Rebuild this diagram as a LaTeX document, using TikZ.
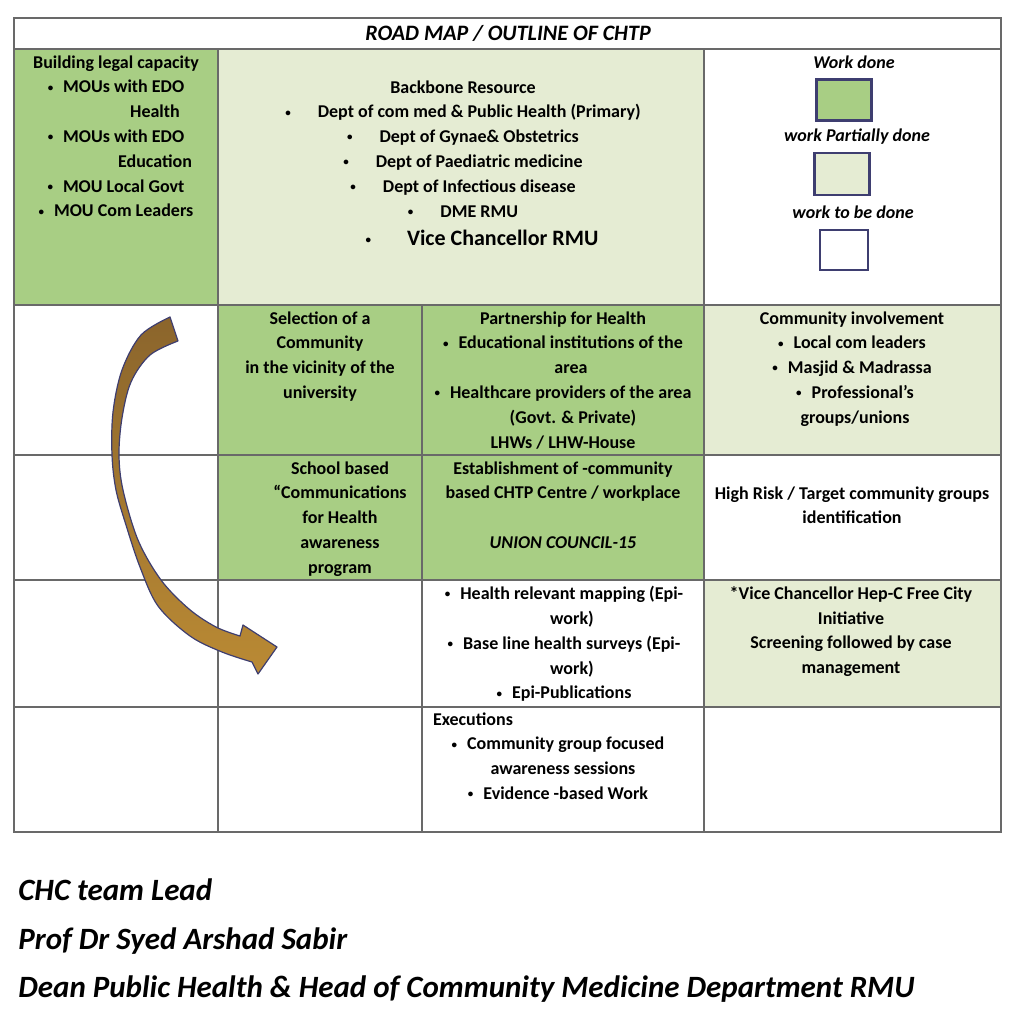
\documentclass[tikz,border=0pt]{standalone}
\usepackage{fontspec}
\setmainfont{Carlito}

\definecolor{donegreen}{RGB}{168,206,132}
\definecolor{partgreen}{RGB}{229,236,211}
\definecolor{gridgray}{RGB}{105,105,105}
\definecolor{boxblue}{RGB}{62,62,112}
\definecolor{arrowtop}{RGB}{139,101,44}
\definecolor{arrowbot}{RGB}{186,138,52}

\tikzset{
	cell text/.style={anchor=north, align=center, inner sep=0pt,
		font=\fontsize{9}{12.4}\selectfont\bfseries, execute at begin node=\strut},
	key text/.style={inner sep=0pt, font=\fontsize{9}{11}\selectfont\bfseries\itshape},
	key box/.style={draw=boxblue, line width=1.2pt, inner sep=0pt},
	sign text/.style={anchor=base west, inner sep=0pt, font=\fontsize{15.5}{17}\selectfont\bfseries\itshape},
	bend arrow/.style={top color=arrowtop, bottom color=arrowbot, draw=boxblue, line width=0.6pt, line join=round}
}
\newcommand{\bul}[1][5pt]{\raisebox{0.9pt}{\fontsize{5.5}{6}\selectfont\textbullet}\hspace{#1}}

\begin{document}
\begin{tikzpicture}[x=0.5pt, y=-0.5pt]
	\useasboundingbox (0,0) rectangle (1024,1024);
	% cell colours
	\fill[donegreen] (14,49) rectangle (218,305);
	\fill[partgreen] (218,49) rectangle (704,305);
	\fill[donegreen] (218,305) rectangle (704,580);
	\fill[partgreen] (704,305) rectangle (1001,455);
	\fill[partgreen] (704,580) rectangle (1001,707);
	% grid
	\draw[gridgray, line width=0.75pt] (14,18) rectangle (1001,832);
	\foreach \y in {49, 305, 455, 580, 707}
		\draw[gridgray, line width=0.75pt] (14,\y) -- (1001,\y);
	\foreach \x in {218, 704}
		\draw[gridgray, line width=0.75pt] (\x,49) -- (\x,832);
	\draw[gridgray, line width=0.75pt] (422,305) -- (422,832);

	\node[inner sep=0pt, font=\fontsize{11}{13}\selectfont\bfseries\itshape] (title) at (508,33) {ROAD MAP / OUTLINE OF CHTP};

	% row 1
	\node[cell text] (legal) at (116,55) {Building legal capacity\\ \bul MOUs with EDO\\ \hspace*{39pt}Health\\
		\bul MOUs with EDO\\ \hspace*{39pt}Education\\ \bul MOU Local Govt\\ \bul MOU Com Leaders};
	\node[cell text] (backbone) at (463,80) {Backbone Resource\\ \bul[13.5pt]Dept of com med \& Public Health (Primary)\\
		\bul[13.5pt]Dept of Gynae\& Obstetrics\\ \bul[13.5pt]Dept of Paediatric medicine\\
		\bul[13.5pt]Dept of Infectious disease\\ \bul[13.5pt]DME RMU\\[1.6pt]
		\hspace*{19pt}\bul[18pt]{\fontsize{11}{13}\selectfont Vice Chancellor RMU}};
	\node[key text] (donelbl) at (854,62) {Work done};
	\node[key box, fill=donegreen, minimum width=27.5pt, minimum height=20.5pt] (donebox) at (844,100) {};
	\node[key text] (partlbl) at (857,137) {work Partially done};
	\node[key box, fill=partgreen, minimum width=27.5pt, minimum height=21pt] (partbox) at (842,174) {};
	\node[key text] (todolbl) at (853,212) {work to be done};
	\node[key box, fill=white, minimum width=24pt, minimum height=20pt] (todobox) at (844,250) {};

	% row 2
	\node[cell text] (select) at (320,311) {Selection of a\\ Community\\ in the vicinity of the\\ university};
	\node[cell text] (partner) at (563,311) {Partnership for Health\\ \bul Educational institutions of the\\ \hspace*{8pt}area\\
		\bul Healthcare providers of the area\\ \hspace*{10pt}(Govt. \& Private)\\ LHWs / LHW-House};
	\node[cell text] (involve) at (852,311) {Community involvement\\ \bul Local com leaders\\ \bul Masjid \& Madrassa\\
		\hspace*{3pt}\bul Professional’s\\ \hspace*{3pt}groups/unions};

	% row 3
	\node[cell text] (school) at (340,461) {School based\\ “Communications\\ for Health\\ awareness\\ program};
	\node[cell text] (centre) at (563,461) {Establishment of -community\\ based CHTP Centre / workplace\\ ~\\ \textit{UNION COUNCIL-15}};
	\node[cell text] (risk) at (852,486) {High Risk / Target community groups\\ identification};

	% row 4
	\node[cell text] (mapping) at (564,586) {\bul Health relevant mapping (Epi-\\ \hspace*{8pt}work)\\
		\bul Base line health surveys (Epi-\\ \hspace*{8pt}work)\\ \bul Epi-Publications};
	\node[cell text] (hepc) at (851,586) {*Vice Chancellor Hep-C Free City\\ Initiative\\ Screening followed by case\\ management};

	% row 5
	\node[cell text] (exec) at (558,712) {\hspace*{-85pt}Executions\\ \bul Community group focused\\
		\hspace*{5pt}awareness sessions\\ \bul Evidence -based Work};

	% curved arrow
	\shadedraw[bend arrow] plot[smooth, tension=0.55] coordinates {(170,317) (141,335) (122,370) (113,412) (112,455)
		(116,490) (126,525) (140,567) (158,606) (190,636) (222,652) (252,662)} -- (258,674) -- (277,647) -- (243,625)
		-- plot[smooth, tension=0.55] coordinates {(240,636) (216,627) (189,609) (161,580) (138,540) (123,490)
		(119,455) (122,418) (131,382) (150,355) (178,341)} -- cycle;

	% signature
	\node[sign text] (lead) at (18,900) {CHC team Lead};
	\node[sign text] (prof) at (18,949) {Prof Dr Syed Arshad Sabir};
	\node[sign text] (dean) at (18,997) {Dean Public Health \& Head of Community Medicine Department RMU};
\end{tikzpicture}
\end{document}
